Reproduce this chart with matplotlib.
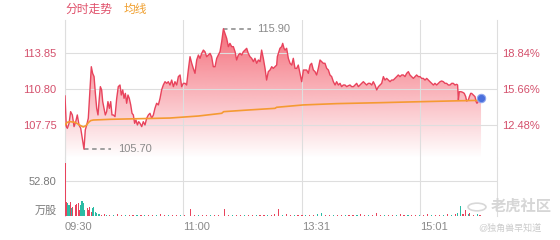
import numpy as np
import matplotlib
matplotlib.use("Agg")
import matplotlib.pyplot as plt
from matplotlib.patches import Circle
from matplotlib.transforms import blended_transform_factory

plt.rcParams['font.family'] = ['Liberation Sans', 'Noto Sans CJK SC']

# minutes from 09:30 (HK session, 330 min) and last price
t_min = [0, 1, 1.8, 3.1, 4.3, 5.6, 6.9, 8.2, 9.4, 10.7, 12.0, 13.2, 14.5, 15.5, 16.6, 17.8,
         19.1, 20.1, 21.1, 22.2, 23.2, 24.2, 25.2, 26.2, 27.0, 28.0, 28.8, 29.8, 30.8, 31.8,
         32.8, 33.9, 34.9, 35.9, 36.9, 38.2, 39.5, 40.7, 42.0, 43.0, 44.1, 45.1, 46.1, 47.1,
         48.1, 49.1, 50.2, 51.2, 52.2, 53.2, 54.2, 55.3, 56.3, 57.3, 58.6, 59.8, 61.1, 62.4,
         63.7, 64.9, 66.2, 67.5, 68.7, 70.0, 71.3, 72.6, 73.8, 75.1, 76.4, 77.7, 78.9, 80.2,
         81.5, 82.8, 84.0, 85.3, 86.6, 87.9, 89.1, 90.4, 91.7, 92.9, 94.2, 95.5, 96.8, 98.0,
         99.3, 100.6, 101.9, 103.1, 104.4, 105.7, 106.9, 108.2, 109.5, 110.8, 112.0, 113.3,
         114.6, 115.9, 117.1, 118.4, 119.7, 121.0, 122.2, 123.5, 124.8, 126.0, 127.3, 128.6,
         129.9, 131.1, 132.4, 133.7, 135.0, 136.2, 137.5, 138.8, 140.0, 141.3, 142.6, 143.9,
         145.1, 146.4, 147.7, 149.0, 150.2, 151.5, 152.8, 154.0, 155.3, 156.6, 157.9, 159.1,
         160.4, 161.7, 162.2, 163.0, 164.2, 165.5, 166.3, 167.3, 168.1, 169.3, 170.6, 171.9,
         173.2, 174.4, 175.7, 177.0, 178.2, 179.5, 180.8, 182.1, 183.3, 184.6, 185.9, 187.2,
         188.4, 189.7, 191.0, 192.2, 193.5, 194.8, 196.1, 197.3, 198.6, 199.9, 201.2, 202.4,
         203.7, 205.0, 206.3, 207.5, 208.8, 210.1, 211.3, 212.6, 213.9, 215.2, 216.4, 217.7,
         219.0, 220.3, 221.5, 222.8, 224.1, 225.3, 226.6, 227.9, 229.2, 230.4, 231.7, 233.0,
         234.3, 235.5, 236.8, 238.1, 239.4, 240.6, 241.9, 243.2, 244.4, 245.7, 247.0, 248.3,
         249.5, 250.8, 252.1, 253.4, 254.6, 255.9, 257.2, 258.4, 259.7, 261.0, 262.3, 263.5,
         264.8, 266.1, 267.4, 268.6, 269.9, 271.2, 272.4, 273.7, 275.0, 276.3, 277.5, 278.8,
         280.1, 281.4, 282.6, 283.9, 285.2, 286.5, 287.7, 289.0, 290.3, 291.5, 292.8, 294.1,
         295.4, 296.6, 297.9, 299.2, 299.9, 300.5, 301.2, 302.5, 303.8, 305.0, 306.1, 306.8,
         308.1, 308.9, 309.9, 310.6, 311.9, 313.2, 314.0, 314.7, 315.2, 316.2, 317.8]
price = [110.21, 107.61, 107.47, 107.89, 108.88, 108.60, 107.61, 108.03, 108.60, 107.75, 107.47,
         106.62, 105.70, 107.33, 107.75, 108.32, 110.86, 112.69, 112.13, 111.85, 110.43, 109.16,
         108.60, 110.01, 111.00, 110.72, 109.73, 109.16, 108.60, 108.88, 109.73, 109.16, 109.73,
         108.60, 108.60, 108.46, 110.01, 111.00, 111.14, 110.29, 110.72, 110.01, 110.43, 109.59,
         110.29, 110.01, 109.45, 108.74, 108.60, 107.89, 108.17, 107.75, 108.03, 107.89, 107.61,
         108.03, 107.75, 108.32, 108.60, 108.74, 108.32, 108.60, 109.16, 109.59, 109.45, 110.01,
         110.72, 111.14, 111.42, 111.28, 111.42, 111.14, 111.56, 111.00, 111.42, 111.14, 111.85,
         111.99, 111.00, 111.28, 111.28, 111.14, 112.41, 113.54, 112.98, 112.55, 112.13, 113.26,
         113.68, 113.40, 113.82, 114.10, 113.96, 113.54, 113.68, 113.82, 113.54, 112.69, 112.69,
         113.40, 113.68, 113.96, 114.81, 115.90, 115.52, 115.09, 114.39, 114.67, 114.39, 114.39,
         113.96, 113.26, 113.68, 113.82, 113.68, 113.96, 114.10, 114.25, 113.82, 113.54, 113.40,
         113.12, 113.40, 112.98, 113.26, 113.12, 114.10, 113.40, 112.55, 111.56, 112.27, 112.41,
         112.69, 112.55, 112.69, 112.83, 113.54, 113.82, 114.25, 114.39, 114.67, 114.25, 114.10,
         114.25, 113.40, 112.98, 112.83, 113.40, 112.55, 112.55, 112.83, 112.13, 111.42, 112.41,
         112.41, 112.41, 112.13, 112.83, 112.98, 112.41, 112.27, 111.99, 112.55, 113.26, 113.12,
         112.98, 112.98, 112.55, 112.41, 111.99, 111.85, 111.42, 111.14, 111.42, 111.14, 111.28,
         111.00, 111.14, 111.14, 111.00, 111.08, 111.14, 111.00, 111.00, 111.14, 111.28, 111.00,
         111.14, 111.28, 111.42, 111.28, 111.14, 111.28, 111.28, 111.14, 111.42, 111.14, 110.72,
         111.00, 111.14, 111.28, 111.85, 111.56, 111.70, 111.56, 111.42, 111.56, 111.56, 111.70,
         111.85, 111.99, 111.85, 111.99, 111.99, 111.85, 112.13, 112.27, 111.99, 111.85, 111.70,
         111.85, 111.99, 111.85, 111.85, 111.70, 111.70, 111.56, 111.70, 111.56, 111.42, 111.28,
         111.14, 111.28, 111.14, 111.28, 111.42, 111.48, 111.42, 111.28, 111.28, 111.14, 111.14,
         111.28, 111.28, 111.14, 111.20, 111.14, 109.87, 110.57, 110.57, 110.52, 110.43, 110.15,
         109.78, 109.87, 110.15, 110.43, 110.43, 110.29, 110.15, 109.73, 109.59, 109.67, 109.87,
         110.01]

# average price line
avg_min = [0, 1.8, 3.8, 7.6, 10.2, 12.0, 14.0, 16.0, 18.1, 19.6, 21.6, 34.4, 59.8, 80.2,
           101.9, 119.7, 121.2, 140.0, 160.4, 161.7, 182.1, 207.5, 240.6, 262.3, 300.5, 317.8]
avg_price = [107.75, 107.98, 108.03, 107.98, 107.81, 107.69, 107.58, 107.69, 107.98, 108.12,
             108.17, 108.23, 108.29, 108.34, 108.51, 108.74, 108.88, 109.02, 109.16, 109.25,
             109.45, 109.56, 109.64, 109.70, 109.80, 109.84]

# volume (10k shares), up = 1 red / 0 teal
vol_min = [0, 1, 2, 3, 4, 5, 6, 8, 9, 10, 11, 12, 13, 14, 15, 17, 18, 19, 20, 21, 22, 23, 24,
           26, 28, 30, 32, 34, 37, 40, 43, 46, 49, 52, 55, 58, 61, 64, 67, 70, 73, 76, 79, 82,
           85, 88, 91, 96, 99, 102, 105, 108, 111, 114, 117, 122, 125, 128, 131, 134, 137, 140,
           143, 146, 149, 152, 155, 158, 160, 163, 166, 169, 172, 175, 178, 181, 184, 187, 190,
           193, 196, 199, 202, 205, 208, 211, 214, 217, 220, 223, 226, 229, 232, 235, 238, 241,
           244, 247, 250, 253, 256, 259, 262, 265, 268, 271, 274, 277, 280, 283, 286, 289, 292,
           295, 298, 300, 302, 304, 306, 308, 309, 312, 315, 317]
vol_val = [79.5, 21.6, 19, 16.6, 21.6, 11.6, 14, 16.6, 17.5, 19, 9, 16.6, 22.6, 19, 9, 11.6, 9,
           14, 6.6, 11.6, 14, 6.6, 4, 3, 2, 2.5, 1.5, 2, 1.5, 2.5, 1.5, 2, 1.5, 2, 1.5, 2, 1.5, 2,
           1.5, 2, 2.5, 1.5, 2, 1.5, 2, 1.5, 2, 10, 2, 1.5, 2, 1.5, 2, 1.5, 2, 10, 2, 1.5, 2, 1.5,
           2, 1.5, 2, 1.5, 2, 2, 1.5, 2, 2.5, 11, 2, 2.5, 1.5, 2, 1.5, 2, 1.5, 2, 1.5, 2.5, 4, 2,
           1.5, 2, 1.5, 2, 1.5, 2, 1.5, 2, 2.5, 1.5, 2, 1.5, 4, 2, 1.5, 2, 1.5, 2, 2.5, 1.5, 2,
           1.5, 2, 1.5, 2, 2.5, 1.5, 2, 1.5, 2, 2.5, 2, 3, 4, 15, 3, 9, 3, 4, 2, 3, 2]
vol_up = [1, 1, 0, 0, 1, 0, 1, 1, 1, 1, 1, 0, 0, 0, 0, 1, 1, 1, 1, 0, 0, 0, 0,
          0, 1, 1, 0, 1, 0, 1, 1, 0, 1, 1, 0, 1, 0, 1, 1, 0, 1, 1, 0, 1,
          1, 0, 1, 1, 1, 0, 1, 1, 0, 1, 1, 1, 1, 0, 1, 1, 0, 1,
          1, 0, 1, 1, 0, 1, 1, 1, 0, 1, 1, 0, 1, 1, 0, 1, 1,
          0, 0, 1, 1, 0, 1, 1, 0, 1, 1, 0, 1, 1, 0, 1, 1, 1,
          0, 1, 1, 0, 1, 1, 0, 1, 1, 0, 1, 1, 0, 1, 1, 0, 1,
          0, 1, 0, 0, 1, 1, 0, 1, 1, 0, 1]

price_ticks = [107.75, 110.80, 113.85]
pct_labels = ['12.48%', '15.66%', '18.84%']
vol_ticks = [9, 52.8]
vol_labels = ['万股', '52.80']
time_ticks = [0, 90, 181, 271]
time_labels = ['09:30', '11:00', '13:31', '15:01']

RED = '#e8435c'
TEAL = '#2bbba4'
ORANGE = '#f59a32'
GRID = '#dedede'
LBL_RED = '#d4506c'

fig = plt.figure(figsize=(5.6, 2.4), dpi=100)
ax = fig.add_axes([65 / 560, 82 / 240, 432 / 560, 138 / 240])
axv = fig.add_axes([65 / 560, 24 / 240, 432 / 560, 58 / 240])

t = np.array(t_min)
p = np.array(price)
ylo, yhi = 104.95, 116.65

# gradient fill under the price line
grad = np.zeros((256, 1, 4))
grad[:, 0, 0] = 242 / 255
grad[:, 0, 1] = 72 / 255
grad[:, 0, 2] = 88 / 255
grad[:, 0, 3] = np.linspace(0.85, 0.0, 256)
img = ax.imshow(grad, aspect='auto', extent=[0, 330, ylo, yhi], origin='upper', zorder=1)
poly = ax.fill_between(t, p, ylo, color='none', lw=0)
img.set_clip_path(poly.get_paths()[0], transform=ax.transData)

ax.plot(t, p, color=RED, lw=1.0, zorder=3)
ax.plot(avg_min, avg_price, color=ORANGE, lw=1.2, zorder=4)
ax.plot(t[-1], p[-1], 'o', color='#4a6fdc', ms=6, mec='#8fa6ee', mew=0.8, zorder=5)

# high / low markers
i_hi = int(np.argmax(p))
i_lo = int(np.argmin(p))
for i in (i_hi, i_lo):
    ax.plot([t[i], t[i] + 21], [p[i], p[i]], color='#999999', lw=1.3, ls=(0, (2.5, 2)), zorder=2)
    ax.text(t[i] + 26, p[i], '%.2f' % p[i], color='#8a8a8a', fontsize=8, va='center', ha='left')

ax.set_xlim(0, 330)
ax.set_ylim(ylo, yhi)
ax.set_xticks(time_ticks)
ax.set_xticklabels([])
ax.set_yticks(price_ticks)
ax.set_yticklabels(['%.2f' % v for v in price_ticks], color=LBL_RED, fontsize=8)
ax.grid(True, color=GRID, lw=0.8)
ax.tick_params(length=0, pad=6)
for s in ['top', 'bottom']:
    ax.spines[s].set_visible(False)
for s in ['left', 'right']:
    ax.spines[s].set_color(GRID)
    ax.spines[s].set_linewidth(0.8)

ax2 = ax.twinx()
ax2.set_ylim(ylo, yhi)
ax2.set_yticks(price_ticks)
ax2.set_yticklabels(pct_labels, color=LBL_RED, fontsize=8)
ax2.tick_params(length=0, pad=4)
for s in ax2.spines.values():
    s.set_visible(False)

colors = [RED if u else TEAL for u in vol_up]
axv.bar(vol_min, vol_val, width=0.9, color=colors, lw=0, zorder=3)
axv.set_xlim(0, 330)
axv.set_ylim(0, 87.5)
axv.set_yticks(vol_ticks)
axv.set_yticklabels(vol_labels, color='#7a7a7a', fontsize=8)
axv.yaxis.get_gridlines()
axv.set_xticks(time_ticks)
axv.set_xticklabels(time_labels, color='#8a8a8a', fontsize=8, ha='left')
axv.tick_params(length=0, pad=4)
axv.tick_params(axis='y', pad=6)
axv.grid(True, axis='x', color=GRID, lw=0.8)
axv.axhline(52.8, color=GRID, lw=0.8, zorder=0)
for s in ['top', 'bottom']:
    axv.spines[s].set_visible(False)
for s in ['left', 'right']:
    axv.spines[s].set_color(GRID)
    axv.spines[s].set_linewidth(0.8)

fig.text(65 / 560, 1 - 10 / 240, '分时走势', color='#e0506a', fontsize=8.5, va='center')
fig.text(124 / 560, 1 - 10 / 240, '均线', color='#f0a030', fontsize=8.5, va='center')

# watermark
fig.patches.append(Circle((477 / 560, 1 - 207 / 240), 0.016, transform=fig.transFigure,
                          fill=False, ec='#d8d8d8', lw=1.2))
fig.text(491 / 560, 1 - 207 / 240, '老虎社区', color='#d6d6d6', fontsize=11, fontweight='bold',
         va='center', ha='left')
fig.text(478 / 560, 1 - 228 / 240, '@独角兽早知道', color='#cccccc', fontsize=6.5,
         va='center', ha='left')

fig.savefig('out.png', dpi=100)
